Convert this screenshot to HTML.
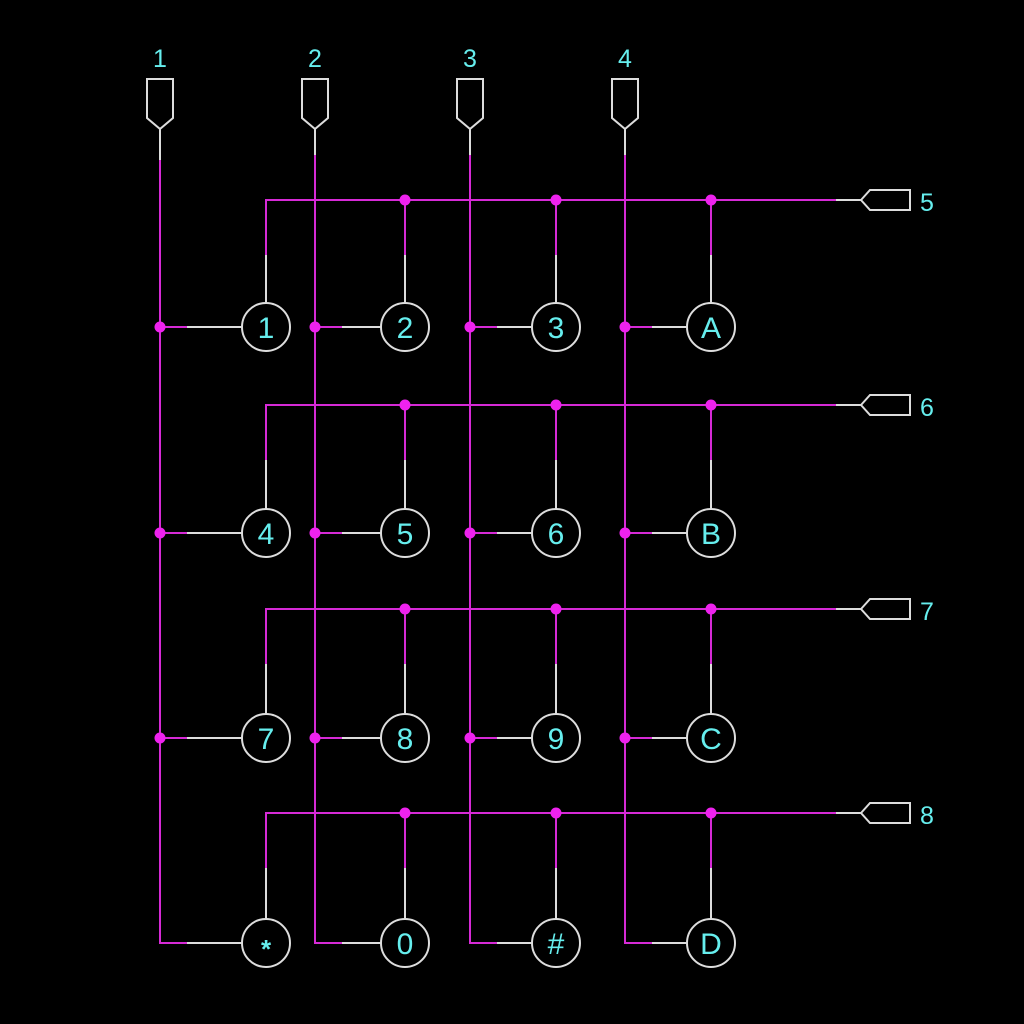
<!DOCTYPE html>
<html><head><meta charset="utf-8"><style>
html,body{margin:0;padding:0;background:#000;}
svg{display:block}
text{font-family:"Liberation Sans","DejaVu Sans",sans-serif;fill:#66eeee;text-anchor:middle}
</style></head><body>
<svg width="1024" height="1024" viewBox="0 0 1024 1024" xmlns="http://www.w3.org/2000/svg">
<rect width="1024" height="1024" fill="#000"/>
<g fill="none" stroke-width="2">
<g stroke="#dddddd">
<polygon points="147,79 173,79 173,118 160,129 147,118"/>
<polygon points="302,79 328,79 328,118 315,129 302,118"/>
<polygon points="457,79 483,79 483,118 470,129 457,118"/>
<polygon points="612,79 638,79 638,118 625,129 612,118"/>
<path d="M160 129V160M315 129V155M470 129V155M625 129V155"/>
</g>
<g stroke="#d62ad6">
<path d="M160 160V943H187M315 155V943H342M470 155V943H497M625 155V943H652"/>
<path d="M160 327H187M315 327H342M470 327H497M625 327H652"/>
<path d="M160 533H187M315 533H342M470 533H497M625 533H652"/>
<path d="M160 738H187M315 738H342M470 738H497M625 738H652"/>
</g>
<g stroke="#dddddd">
<path d="M187 327H242M342 327H381M497 327H532M652 327H687"/>
<path d="M187 533H242M342 533H381M497 533H532M652 533H687"/>
<path d="M187 738H242M342 738H381M497 738H532M652 738H687"/>
<path d="M187 943H242M342 943H381M497 943H532M652 943H687"/>
</g>
<g stroke="#d62ad6">
<path d="M266 255V200H836M405 200V255M556 200V255M711 200V255"/>
<path d="M266 460V405H836M405 405V460M556 405V460M711 405V460"/>
<path d="M266 664V609H836M405 609V664M556 609V664M711 609V664"/>
<path d="M266 868V813H836M405 813V868M556 813V868M711 813V868"/>
</g>
<g stroke="#dddddd">
<path d="M266 255V303M405 255V303M556 255V303M711 255V303M836 200H861"/>
<path d="M266 460V509M405 460V509M556 460V509M711 460V509M836 405H861"/>
<path d="M266 664V714M405 664V714M556 664V714M711 664V714M836 609H861"/>
<path d="M266 868V919M405 868V919M556 868V919M711 868V919M836 813H861"/>
<polygon points="861,200 870,190 910,190 910,210 870,210"/>
<polygon points="861,405 870,395 910,395 910,415 870,415"/>
<polygon points="861,609 870,599 910,599 910,619 870,619"/>
<polygon points="861,813 870,803 910,803 910,823 870,823"/>
</g>
<g stroke="#dddddd">
<circle cx="266" cy="327" r="24"/><circle cx="405" cy="327" r="24"/><circle cx="556" cy="327" r="24"/><circle cx="711" cy="327" r="24"/>
<circle cx="266" cy="533" r="24"/><circle cx="405" cy="533" r="24"/><circle cx="556" cy="533" r="24"/><circle cx="711" cy="533" r="24"/>
<circle cx="266" cy="738" r="24"/><circle cx="405" cy="738" r="24"/><circle cx="556" cy="738" r="24"/><circle cx="711" cy="738" r="24"/>
<circle cx="266" cy="943" r="24"/><circle cx="405" cy="943" r="24"/><circle cx="556" cy="943" r="24"/><circle cx="711" cy="943" r="24"/>
</g>
</g>
<g fill="#ee22ee">
<circle cx="160" cy="327" r="5.5"/><circle cx="315" cy="327" r="5.5"/><circle cx="470" cy="327" r="5.5"/><circle cx="625" cy="327" r="5.5"/>
<circle cx="160" cy="533" r="5.5"/><circle cx="315" cy="533" r="5.5"/><circle cx="470" cy="533" r="5.5"/><circle cx="625" cy="533" r="5.5"/>
<circle cx="160" cy="738" r="5.5"/><circle cx="315" cy="738" r="5.5"/><circle cx="470" cy="738" r="5.5"/><circle cx="625" cy="738" r="5.5"/>
<circle cx="405" cy="200" r="5.5"/><circle cx="556" cy="200" r="5.5"/><circle cx="711" cy="200" r="5.5"/>
<circle cx="405" cy="405" r="5.5"/><circle cx="556" cy="405" r="5.5"/><circle cx="711" cy="405" r="5.5"/>
<circle cx="405" cy="609" r="5.5"/><circle cx="556" cy="609" r="5.5"/><circle cx="711" cy="609" r="5.5"/>
<circle cx="405" cy="813" r="5.5"/><circle cx="556" cy="813" r="5.5"/><circle cx="711" cy="813" r="5.5"/>
</g>
<g font-size="25">
<text x="160" y="67">1</text><text x="315" y="67">2</text><text x="470" y="67">3</text><text x="625" y="67">4</text>
<text x="927" y="211">5</text><text x="927" y="416">6</text><text x="927" y="620">7</text><text x="927" y="824">8</text>
</g>
<g font-size="30">
<text x="266" y="338">1</text><text x="405" y="338">2</text><text x="556" y="338">3</text><text x="711" y="338">A</text>
<text x="266" y="544">4</text><text x="405" y="544">5</text><text x="556" y="544">6</text><text x="711" y="544">B</text>
<text x="266" y="749">7</text><text x="405" y="749">8</text><text x="556" y="749">9</text><text x="711" y="749">C</text>
<text x="266" y="958" font-weight="bold" font-size="26">*</text><text x="405" y="954">0</text><text x="556" y="954">#</text><text x="711" y="954">D</text>
</g>
</svg>
</body></html>
